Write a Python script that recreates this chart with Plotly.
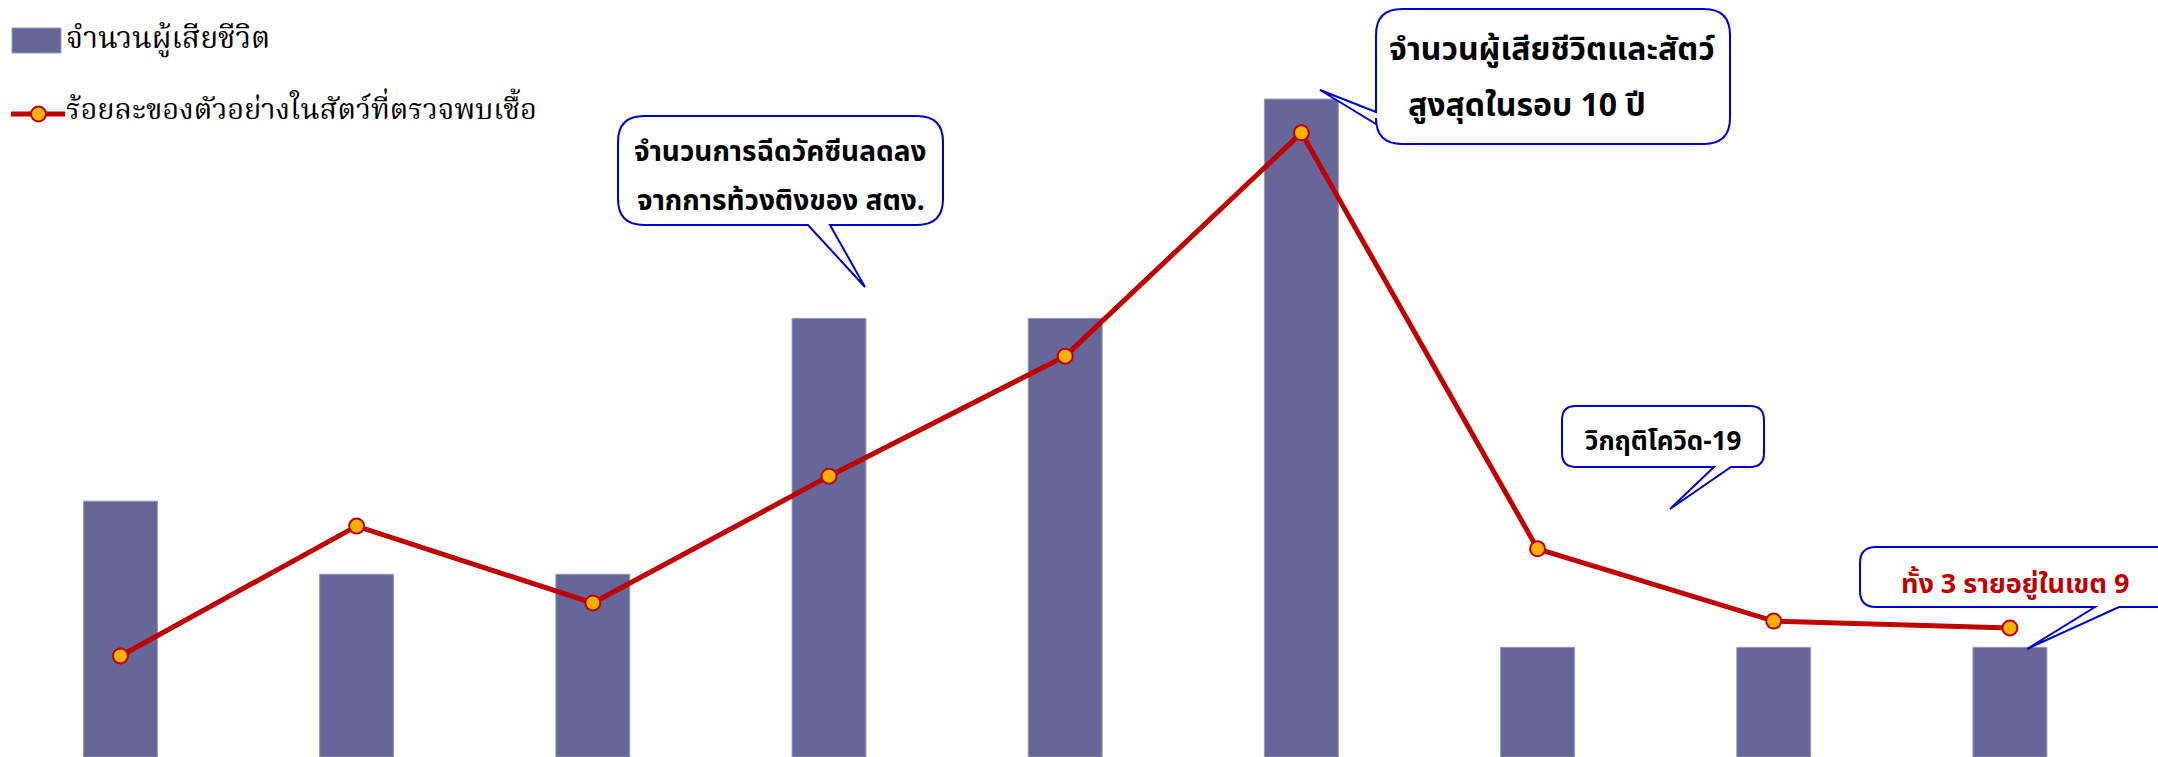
import plotly.graph_objects as go

# ---- data ----
years = ["2556", "2557", "2558", "2559", "2560", "2561", "2562", "2563", "2564"]
deaths = [7, 5, 5, 12, 12, 18, 3, 3, 3]
pct_positive = [2.67, 6.10, 4.07, 7.42, 10.59, 16.49, 5.50, 3.59, 3.41]
series_names = ["จำนวนผู้เสียชีวิต", "ร้อยละของตัวอย่างในสัตว์ที่ตรวจพบเชื้อ"]
callout1_lines = ["จำนวนการฉีดวัคซีนลดลง", "จากการท้วงติงของ สตง."]
callout2_lines = ["จำนวนผู้เสียชีวิตและสัตว์", "สูงสุดในรอบ 10 ปี"]
callout3_text = "วิกฤติโควิด-19"
callout4_text = "ทั้ง 3 รายอยู่ในเขต 9"

W, H = 2158, 757
BAR_COLOR = "#666699"
LINE_COLOR = "#C00000"
MARK_FILL = "#FFB000"
BLUE = "#0000CC"

fig = go.Figure()
fig.add_trace(go.Bar(x=years, y=deaths, name=series_names[0], marker_color=BAR_COLOR,
                     marker_line=dict(color="#9999BB", width=1), width=0.313))
fig.add_trace(go.Scatter(x=years, y=pct_positive, name=series_names[1], yaxis="y2",
                         mode="lines+markers",
                         line=dict(color=LINE_COLOR, width=5),
                         marker=dict(size=15, color=MARK_FILL, line=dict(color=LINE_COLOR, width=2))))


def px(x):
    return x / W


def py(y):
    return 1 - y / H


def callout(x0, y0, x1, y1, r, edge, b1, b2, tip):
    """Rounded box with a pointer tail; pixel coordinates -> paper path."""
    def P(x, y):
        return f"{px(x):.5f},{py(y):.5f}"
    d = f"M{P(x0 + r, y0)} L{P(x1 - r, y0)} Q{P(x1, y0)} {P(x1, y0 + r)} "
    d += f"L{P(x1, y1 - r)} Q{P(x1, y1)} {P(x1 - r, y1)} "
    if edge == "bottom":
        d += f"L{P(b2, y1)} L{P(tip[0], tip[1])} L{P(b1, y1)} "
    d += f"L{P(x0 + r, y1)} Q{P(x0, y1)} {P(x0, y1 - r)} "
    if edge == "left":
        d += f"L{P(x0, b2)} L{P(tip[0], tip[1])} L{P(x0, b1)} "
    d += f"L{P(x0, y0 + r)} Q{P(x0, y0)} {P(x0 + r, y0)} Z"
    return dict(type="path", xref="paper", yref="paper", path=d,
                fillcolor="white", line=dict(color=BLUE, width=2), layer="above")


shapes = [
    callout(618, 116, 943, 225, 26, "bottom", 808, 830, (865, 287)),
    callout(1376, 9, 1730, 144, 26, "left", 112, 124, (1320, 90)),
    callout(1562, 406, 1764, 467, 14, "bottom", 1714, 1731, (1670, 509)),
    callout(1860, 547, 2180, 607, 16, "bottom", 2095, 2119, (2027, 649)),
    # legend icons
    dict(type="rect", xref="paper", yref="paper", x0=px(12), x1=px(61), y0=py(28), y1=py(53),
         fillcolor=BAR_COLOR, line=dict(color="#9999BB", width=1)),
    dict(type="line", xref="paper", yref="paper", x0=px(11), x1=px(65), y0=py(114), y1=py(114),
         line=dict(color=LINE_COLOR, width=5)),
    dict(type="circle", xref="paper", yref="paper", x0=px(31), x1=px(46), y0=py(121.5), y1=py(106.5),
         fillcolor=MARK_FILL, line=dict(color=LINE_COLOR, width=2)),
]

sans = "Tahoma, 'Noto Sans Thai', 'Noto Sans', sans-serif"
serif = "'Angsana New', 'Noto Serif Thai', 'Noto Serif', serif"


def ann(x, y, text, size, color, family, xanchor="center", bold=True):
    return dict(x=px(x), y=py(y), xref="paper", yref="paper",
                text=("<b>" + text + "</b>") if bold else text,
                font=dict(size=size, color=color, family=family),
                xanchor=xanchor, yanchor="middle", showarrow=False)


annotations = [
    ann(780, 152, callout1_lines[0], 28, "black", sans),
    ann(781, 201, callout1_lines[1], 28, "black", sans),
    ann(1387, 50, callout2_lines[0], 32, "black", sans, xanchor="left"),
    ann(1406, 106, callout2_lines[1], 32, "black", sans, xanchor="left"),
    ann(1663, 442, callout3_text, 26, "black", sans),
    ann(2015, 584, callout4_text, 27, LINE_COLOR, sans),
    ann(64, 40, series_names[0], 30, "black", serif, xanchor="left", bold=False),
    ann(64, 111, series_names[1], 29, "black", serif, xanchor="left", bold=False),
]

fig.update_layout(
    width=W, height=H,
    margin=dict(l=0, r=0, t=0, b=0),
    paper_bgcolor="white", plot_bgcolor="white",
    showlegend=False,
    xaxis=dict(range=[-0.51, 8.627], visible=False, type="category"),
    yaxis=dict(range=[0, 20.71], visible=False),
    yaxis2=dict(range=[0, 20], visible=False, overlaying="y"),
    shapes=shapes,
    annotations=annotations,
)

fig.write_html("out.html")
